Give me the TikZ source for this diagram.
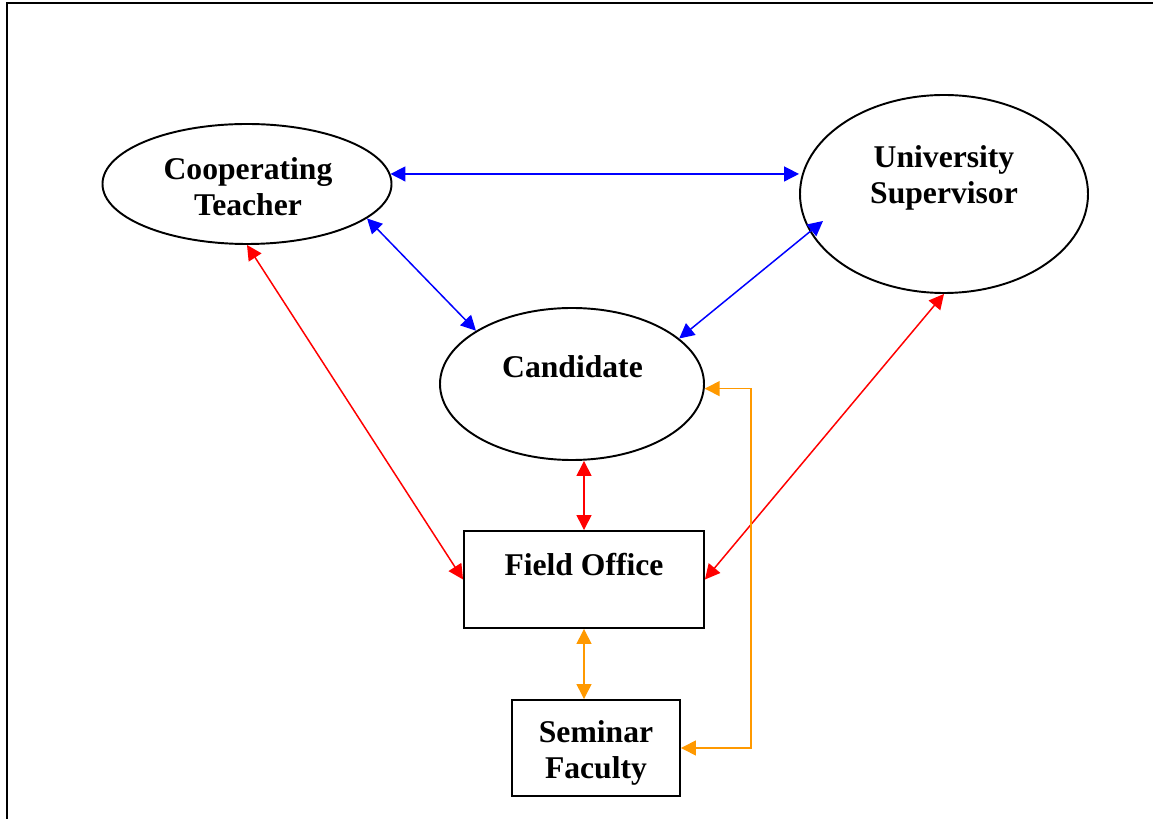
\documentclass[tikz,border=0pt]{standalone}
\usepackage{fontspec}
\setmainfont{Liberation Serif}
\usepackage{tikz}
\usetikzlibrary{shapes,arrows.meta,positioning,calc}
\definecolor{orangeline}{RGB}{255,153,0}
\tikzset{
ellip/.style = {draw, ellipse, line width=1.1pt, inner sep=0pt},
block/.style = {draw, rectangle, line width=1.1pt, inner sep=0pt},
lbl/.style   = {align=center, inner sep=0pt, font=\fontsize{18}{20.5}\selectfont\bfseries},
link/.style  = {line width=0.85pt, {Triangle[length=8.5pt,width=8.5pt]}-{Triangle[length=8.5pt,width=8.5pt]}},
tmp/.style   = {coordinate}
}
\begin{document}
\begin{tikzpicture}
  \useasboundingbox (0,0) rectangle (23.06,-16.38);
  \draw [line width=1.2pt] (0.14,-16.38) -- (0.14,-0.06) -- (23.06,-0.06);

  \node [ellip, minimum width=5.78cm, minimum height=2.4cm]  (coop)    at (4.94,-3.68)   {};
  \node [ellip, minimum width=5.76cm, minimum height=3.96cm] (super)   at (18.88,-3.88)  {};
  \node [ellip, minimum width=5.28cm, minimum height=3.04cm] (cand)    at (11.44,-7.68)  {};
  \node [block, minimum width=4.8cm, minimum height=1.94cm]  (field)   at (11.68,-11.59) {};
  \node [block, minimum width=3.36cm, minimum height=1.92cm] (seminar) at (11.92,-14.96) {};
  \node [tmp]                                                (elbow)   at (15.02,0)      {};
  \node [tmp]                                                (superIn) at (16.46,-4.42)  {};

  \node [lbl] (coopText)    at (4.96,-3.74)   {Cooperating\\Teacher};
  \node [lbl] (superText)   at (18.88,-3.55)  {University\\Supervisor};
  \node [lbl] (candText)    at (11.45,-7.33)  {Candidate};
  \node [lbl] (fieldText)   at (11.68,-11.29) {Field Office};
  \node [lbl] (seminarText) at (11.92,-15.05) {Seminar\\Faculty};

  \draw [link, blue] (coop.4) -- (coop.4 -| super.west);
  \draw [link, blue] (coop.-16) -- (cand.151);
  \draw [link, blue] (superIn) -- (cand.23);
  \draw [link, red] (coop.south) -- (field.west);
  \draw [link, red] (super.south) -- (field.east);
  \draw [link, red] (cand.south -| field.north) -- (field.north);
  \draw [link, orangeline] (field.south) -- (field.south |- seminar.north);
  \draw [link, orangeline] (cand.-2) -- (cand.-2 -| elbow) -- (elbow |- seminar.east) -- (seminar.east);
\end{tikzpicture}
\end{document}
